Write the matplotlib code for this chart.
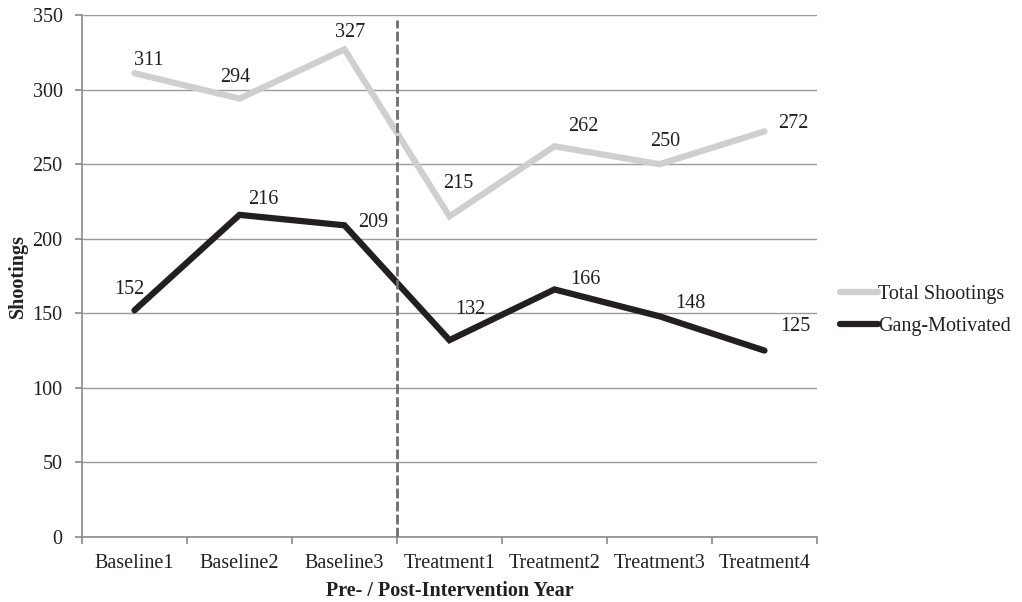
import matplotlib
matplotlib.use("Agg")
import matplotlib.pyplot as plt

plt.rcParams['font.family'] = ['Liberation Serif', 'DejaVu Serif']

years = ["Baseline1", "Baseline2", "Baseline3", "Treatment1",
         "Treatment2", "Treatment3", "Treatment4"]
total_shootings = [311, 294, 327, 215, 262, 250, 272]
gang_motivated = [152, 216, 209, 132, 166, 148, 125]
intervention_at = 2.5  # between the last baseline and first treatment year

# label offsets in points (dx, dy) for each data label
total_offsets = [(10, 9), (-3, 15), (4, 12), (6, 24), (21, 14), (4, 16), (21, 6)]
gang_offsets = [(-4, 15), (17, 11), (21, 2), (15, 22), (22, 7), (22, 9), (22, 17)]

FS = 14.5

fig = plt.figure(figsize=(10.22, 6.02), dpi=100)
ax = fig.add_axes([0.0802, 0.108, 0.7192, 0.867])

x = list(range(len(years)))
ax.set_xlim(-0.5, len(years) - 0.5)
ax.set_ylim(0, 350)
ax.set_yticks(range(0, 351, 50))
ax.yaxis.grid(True, color='#9a9a9a', linewidth=1.0)
ax.set_axisbelow(True)

l1, = ax.plot(x, total_shootings, color='#cfcfcf', linewidth=4.5,
              solid_capstyle='round', solid_joinstyle='miter', label='Total Shootings', zorder=3)
l2, = ax.plot(x, gang_motivated, color='#231f20', linewidth=4.5,
              solid_capstyle='round', solid_joinstyle='miter', label='Gang-Motivated', zorder=4)

ax.axvline(intervention_at, ymin=0, ymax=0.99, color='#6e6e6e',
           linestyle=(0, (3.5, 1.2)), linewidth=2.0, zorder=5)

for xi, v, (dx, dy) in zip(x, total_shootings, total_offsets):
    ax.annotate(str(v), (xi, v), xytext=(dx, dy), textcoords='offset points',
                ha='center', va='center', fontsize=FS, color='#231f20', zorder=6)
for xi, v, (dx, dy) in zip(x, gang_motivated, gang_offsets):
    ax.annotate(str(v), (xi, v), xytext=(dx, dy), textcoords='offset points',
                ha='center', va='center', fontsize=FS, color='#231f20', zorder=6)

for s in ['top', 'right']:
    ax.spines[s].set_visible(False)
for s in ['left', 'bottom']:
    ax.spines[s].set_color('#8a8a8a')
    ax.spines[s].set_linewidth(1.2)

ax.set_xticks(x)
ax.set_xticklabels(years)
ax.set_xticks([i - 0.5 for i in range(len(years) + 1)], minor=True)
ax.tick_params(axis='x', which='major', length=0, pad=12, labelsize=FS, colors='#231f20')
ax.tick_params(axis='x', which='minor', length=5, color='#8a8a8a', width=1.2)
ax.tick_params(axis='y', length=5, color='#8a8a8a', width=1.2, pad=9,
               labelsize=FS, labelcolor='#231f20')

ax.set_xlabel('Pre- / Post-Intervention Year', fontsize=FS, fontweight='bold',
              color='#231f20', labelpad=6)
ax.set_ylabel('Shootings', fontsize=FS, fontweight='bold', color='#231f20', labelpad=3)

fig.legend(handles=[l1, l2], loc='center left', bbox_to_anchor=(0.822, 0.484),
           frameon=False, fontsize=FS, handlelength=1.9, handletextpad=0.0,
           labelspacing=0.65, borderpad=0, borderaxespad=0, labelcolor='#231f20')

fig.savefig('out.png', dpi=100, facecolor='white')
